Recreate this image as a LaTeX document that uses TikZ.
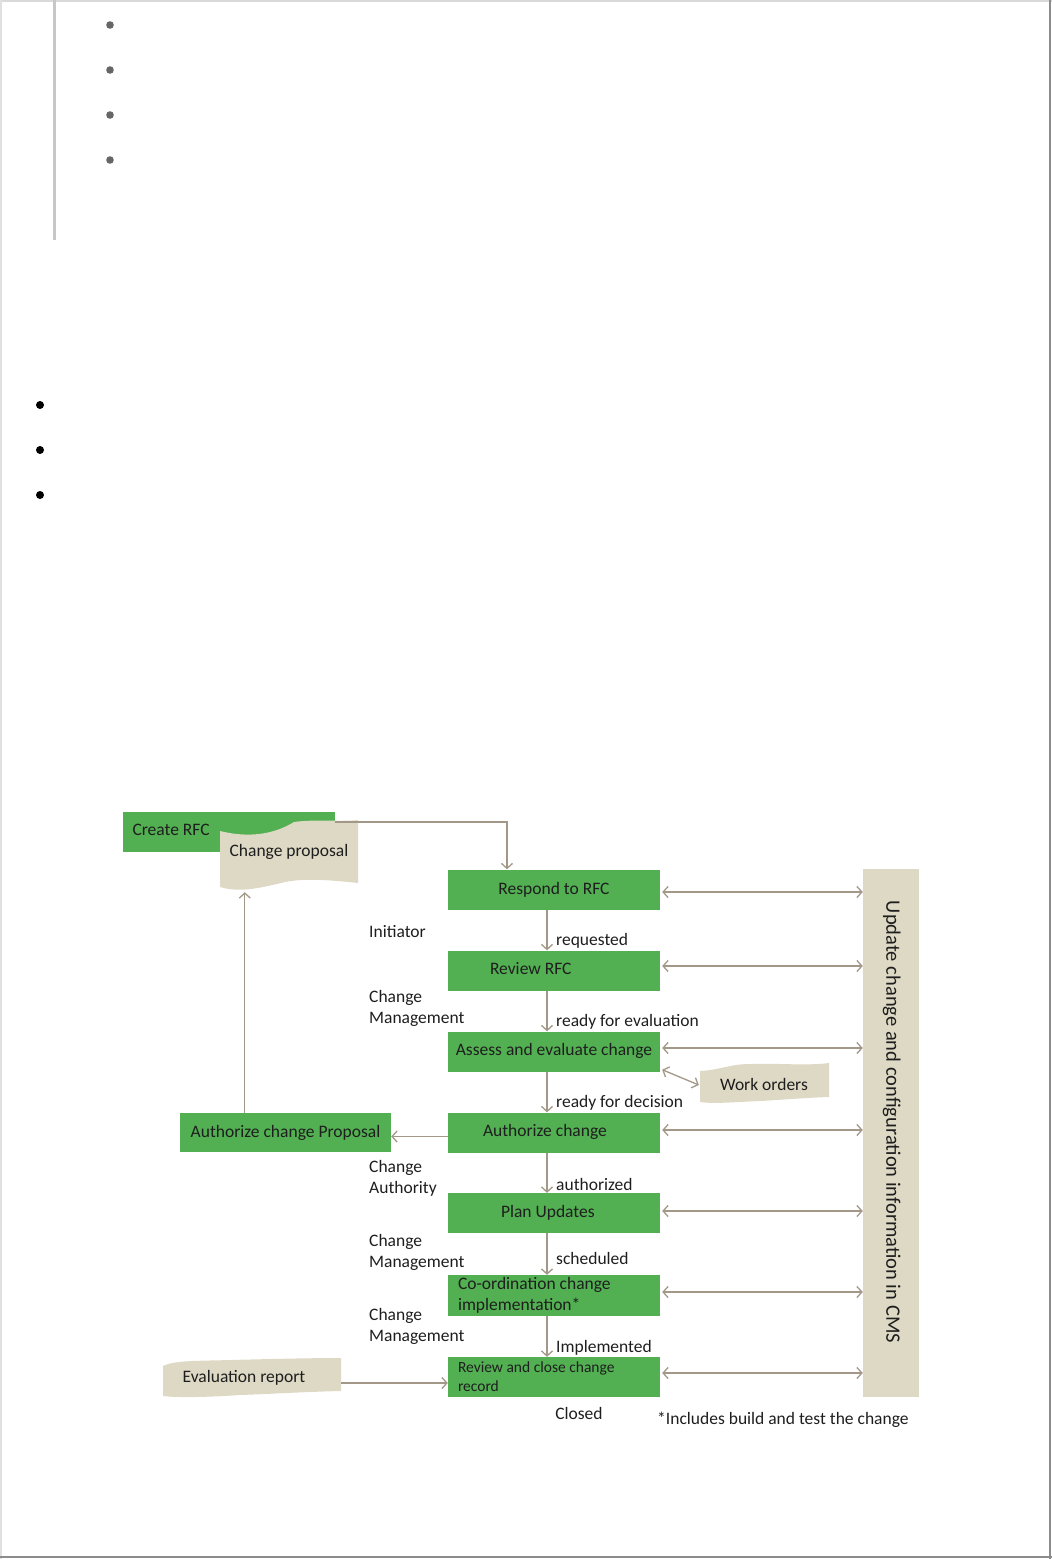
\documentclass[tikz,border=0pt]{standalone}
\usepackage{fontspec}
\setmainfont{Carlito}
\usetikzlibrary{arrows.meta}
\definecolor{gboxc}{HTML}{52B052}
\definecolor{tanc}{HTML}{DDD9C5}
\definecolor{arrc}{HTML}{A39887}
\definecolor{txtc}{HTML}{1E1E1E}
\newcommand{\lpadtxt}[2]{\makebox[212pt][l]{\hspace*{#1}#2}}
\begin{document}
\begin{tikzpicture}[x=1pt,y=-1pt,
  font=\fontsize{17.5}{21}\selectfont,
  gbox/.style={fill=gboxc, minimum width=212pt, minimum height=40pt, inner sep=0pt, text=txtc},
  tandoc/.style={fill=tanc},
  docnode/.style={inner sep=0pt, text=txtc},
  conn/.style={draw=arrc, line width=1.3pt, -{Straight Barb[length=5pt,width=11pt]}},
  dconn/.style={draw=arrc, line width=1.3pt, {Straight Barb[length=5pt,width=11pt]}-{Straight Barb[length=5pt,width=11pt]}},
  lbl/.style={inner sep=0pt, anchor=west, text=txtc, align=left},
  dotg/.style={fill=black!60},
  dotb/.style={fill=black}]
\useasboundingbox (0,0) rectangle (1052,1559);
% page frame
\draw[black!15, line width=1.5pt] (0,0.75) -- (1052,0.75);
\draw[black!12, line width=1.5pt] (0.75,0) -- (0.75,1559);
\draw[black!45, line width=2pt] (1050,0) -- (1050,1559);
\draw[black!45, line width=2pt] (0,1557) -- (1052,1557);
\fill[black!22] (53,0) rectangle (56,240);
% bullets
\foreach \yy in {25,70,115,160} \fill[dotg] (110,\yy) circle (3.8);
\foreach \yy in {405,450,495} \fill[dotb] (40,\yy) circle (4);

% green boxes
\node[gbox] (crfc) at (228.5,832) {\lpadtxt{10pt}{\raisebox{4pt}{Create RFC}}};
\node[gbox] (respond) at (554,889.5) {\raisebox{-2pt}{Respond to RFC}};
\node[gbox] (review) at (554,970.5) {\lpadtxt{42pt}{\raisebox{4pt}{Review RFC}}};
\node[gbox] (assess) at (554,1051.5) {\raisebox{4pt}{Assess and evaluate change}};
\node[gbox] (authc) at (554,1132.5) {\lpadtxt{35pt}{\raisebox{4pt}{Authorize change}}};
\node[gbox] (plan) at (554,1213) {\lpadtxt{53pt}{\raisebox{3pt}{Plan Updates}}};
\node[gbox, minimum height=41pt] (coord) at (554,1295.5) {\lpadtxt{10pt}{\parbox{200pt}{\raggedright Co-ordination change\\ implementation*}}};
\node[gbox] (rclose) at (554,1377) {\lpadtxt{10pt}{\parbox{200pt}{\fontsize{15.5}{19}\selectfont\raggedright Review and close change\\ record}}};
\node[gbox, minimum width=211pt, minimum height=39pt] (ap) at (285.5,1132.5) {\raisebox{-4pt}{Authorize change Proposal}};

% tan documents
\fill[tandoc] (220,831) .. controls (240,836) and (268,838) .. (294,822)
  .. controls (315,819) and (340,822) .. (358,820) -- (358,883)
  .. controls (330,880) and (305,878) .. (285,882)
  .. controls (260,888) and (240,893) .. (220,887) -- cycle;
\node[docnode, minimum width=138pt, minimum height=80pt] (cp) at (289,852) {Change proposal};

\fill[tandoc] (700,1071) .. controls (720,1070) and (730,1064) .. (750,1064)
  .. controls (780,1063) and (805,1066) .. (829,1063) -- (829,1097)
  .. controls (800,1098) and (780,1100) .. (760,1101)
  .. controls (735,1102) and (715,1104) .. (700,1102) -- cycle;
\node[docnode, minimum width=130pt, minimum height=40pt] (wo) at (764,1084) {\raisebox{-3pt}{Work orders}};

\fill[tandoc] (163,1366) .. controls (175,1360) and (200,1361) .. (230,1360)
  .. controls (270,1359) and (310,1358) .. (341,1358) -- (341,1391)
  .. controls (300,1392) and (270,1394) .. (240,1395)
  .. controls (210,1397) and (180,1398) .. (163,1396) -- cycle;
\node[docnode, minimum width=178pt, minimum height=40pt] (er) at (252,1378) {\hspace*{-16pt}\raisebox{-2pt}{Evaluation report}};

% CMS bar
\node[fill=tanc, rotate=-90, minimum width=528pt, minimum height=56pt, inner sep=0pt, text=txtc,
  font=\fontsize{20.5}{24}\selectfont] (cms) at (891,1133) {\hspace*{-22pt}\raisebox{5pt}{Update change and configuration information in CMS}};

% connectors
\draw[conn] ([yshift=10pt]crfc.east) -| ([xshift=-47pt]respond.north);
\draw[conn] ([xshift=-7pt]respond.south) -- ([xshift=-7pt]review.north);
\draw[conn] ([xshift=-7pt]review.south) -- ([xshift=-7pt]assess.north);
\draw[conn] ([xshift=-7pt]assess.south) -- ([xshift=-7pt]authc.north);
\draw[conn] ([xshift=-7pt]authc.south) -- ([xshift=-7pt]plan.north);
\draw[conn] ([xshift=-7pt]plan.south) -- ([xshift=-7pt]coord.north);
\draw[conn] ([xshift=-7pt]coord.south) -- ([xshift=-7pt]rclose.north);
\draw[conn] ([yshift=-4pt]authc.west) -- ([yshift=-4pt]authc.west -| ap.east);
\draw[conn] ([xshift=65pt]ap.north west) -- ([xshift=25pt]cp.south west);
\draw[conn] ([yshift=-5pt]er.east) -- ([yshift=-5pt]er.east -| rclose.west);
\draw[dconn] ([xshift=2pt,yshift=2pt]assess.south east) -- ([yshift=-1pt]wo.west);
\foreach \bx/\dy in {respond/-2.5, review/4.5, assess/3.5, authc/2.5, plan/2, coord/3.5, rclose/4}
  \draw[dconn] ([xshift=2pt,yshift=\dy pt]\bx.east) -- ([yshift=\dy pt]\bx.east -| cms.south);

% labels
\node[lbl] (l1) at (369,932) {Initiator};
\node[lbl] (l2) at (369,1008.5) {Change\\Management};
\node[lbl] (l3) at (369,1178.5) {Change\\Authority};
\node[lbl] (l4) at (369,1252.5) {Change\\Management};
\node[lbl] (l5) at (369,1326.5) {Change\\Management};
\node[lbl] (s1) at (556,941) {requested};
\node[lbl] (s2) at (556,1022) {ready for evaluation};
\node[lbl] (s3) at (556,1103) {ready for decision};
\node[lbl] (s4) at (556,1184) {authorized};
\node[lbl] (s5) at (556,1258) {scheduled};
\node[lbl] (s6) at (556,1348) {Implemented};
\node[inner sep=0pt, text=txtc] (closed) at (579,1413) {Closed};
\node[lbl] (foot) at (657,1420) {*Includes build and test the change};
\end{tikzpicture}
\end{document}
